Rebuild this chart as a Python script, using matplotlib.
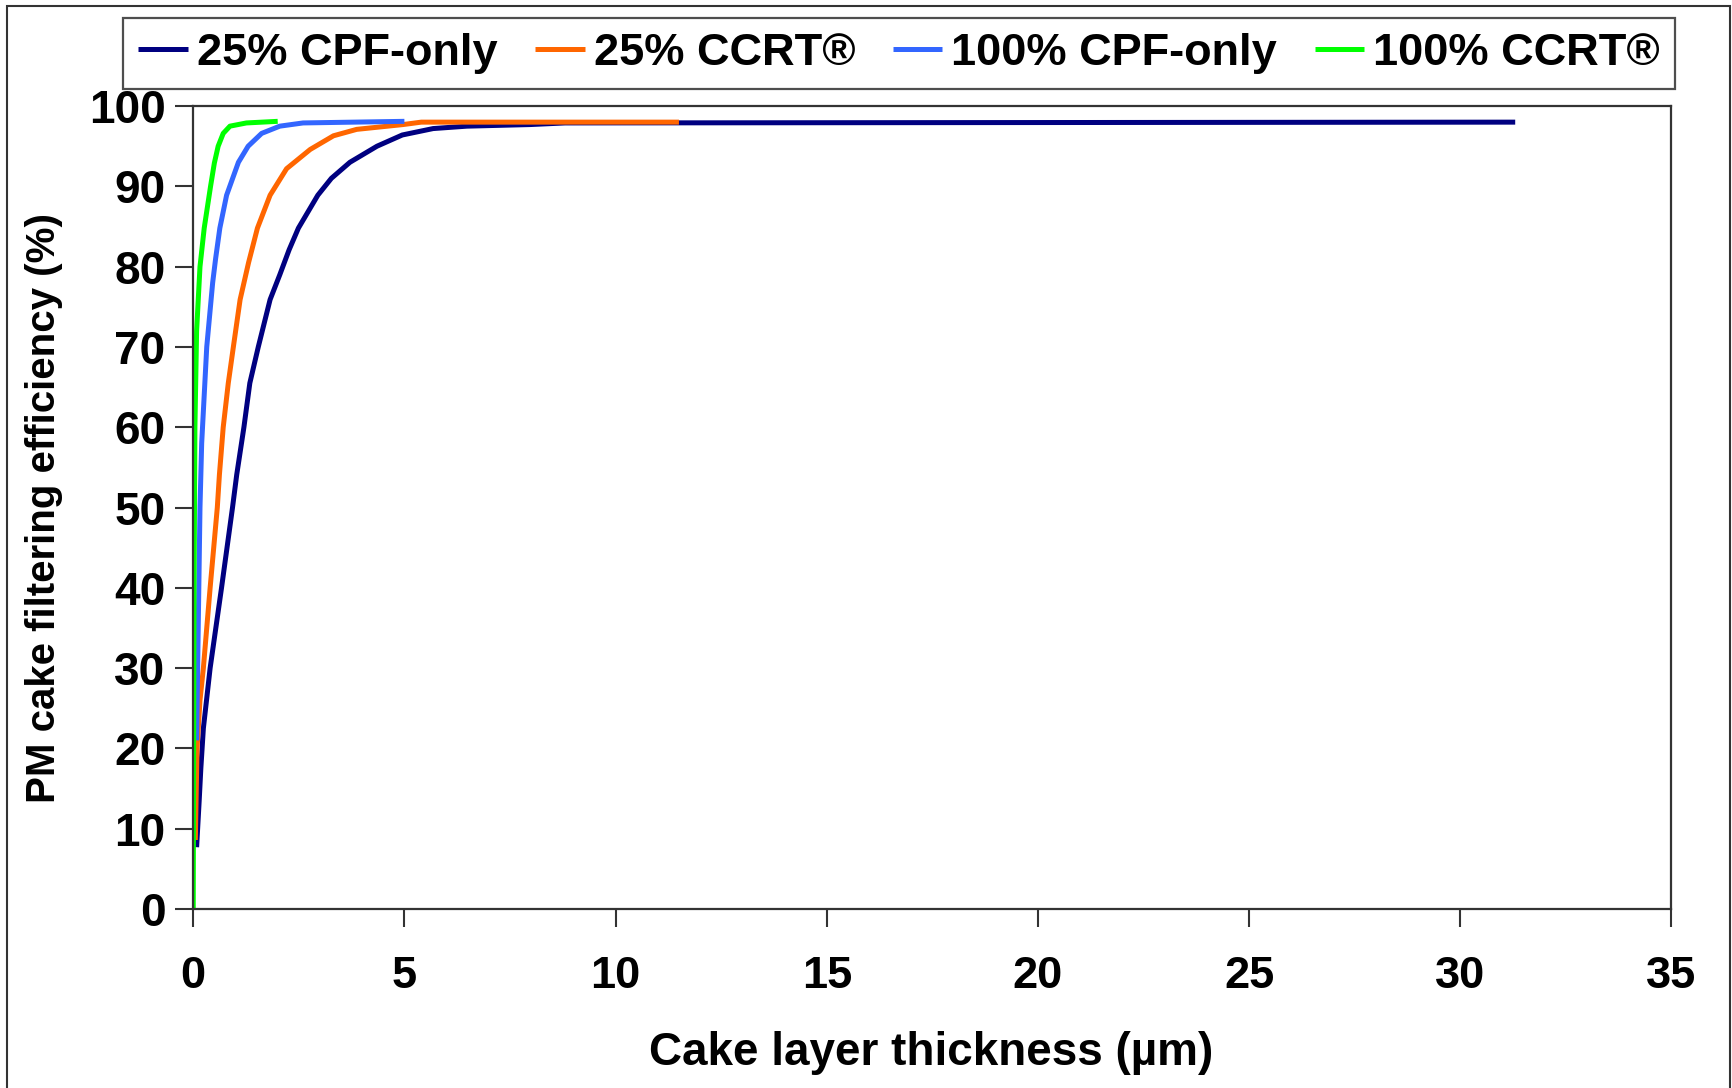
import matplotlib
matplotlib.use("Agg")
import matplotlib.pyplot as plt
from matplotlib.patches import Rectangle

plt.rcParams["font.family"] = ["Liberation Sans", "DejaVu Sans"]
plt.rcParams["font.weight"] = "bold"

# ── Data ─────────────────────────────────────────────────────
labels = ["25% CPF-only", "25% CCRT®", "100% CPF-only", "100% CCRT®"]
colors = ["#000080", "#FF6600", "#3366FF", "#00FF00"]

x_cpf25 = [0.08, 0.14, 0.18, 0.24, 0.40, 0.67, 0.93, 1.03, 1.20, 1.34, 1.54,
           1.82, 2.05, 2.27, 2.49, 2.95, 3.27, 3.71, 4.35, 4.95, 5.68, 6.48,
           7.98, 8.8, 31.3]
y_cpf25 = [7.7, 13.4, 17.5, 22.5, 30, 40, 50, 54.1, 60, 65.5, 70,
           75.9, 79, 82.1, 84.8, 88.9, 91.0, 93.0, 95.0, 96.4, 97.2, 97.5,
           97.7, 97.9, 98.0]

x_ccrt25 = [0.05, 0.09, 0.16, 0.24, 0.40, 0.57, 0.62, 0.71, 0.83, 0.95, 1.11,
            1.31, 1.52, 1.82, 2.21, 2.77, 3.32, 3.87, 4.97, 5.4, 11.5]
y_ccrt25 = [8.6, 20, 26, 30, 40, 50, 54.1, 60, 65.5, 70, 75.9,
            80.5, 84.8, 88.9, 92.2, 94.6, 96.3, 97.1, 97.7, 98.0, 98.0]

x_cpf100 = [0.08, 0.12, 0.16, 0.20, 0.24, 0.32, 0.46, 0.53, 0.63, 0.79, 1.07,
            1.30, 1.62, 2.05, 2.6, 5.0]
y_cpf100 = [21, 35.6, 50, 58, 62, 70, 78, 81, 84.8, 88.9, 93.0,
            95.0, 96.6, 97.5, 97.9, 98.1]

x_ccrt100 = [0.0, 0.02, 0.04, 0.08, 0.16, 0.26, 0.41, 0.50, 0.59, 0.71, 0.87,
             1.26, 2.0]
y_ccrt100 = [0, 40, 60, 72, 80, 84.8, 90, 92.9, 95, 96.6, 97.5,
             97.9, 98.1]

series = [(x_cpf25, y_cpf25), (x_ccrt25, y_ccrt25),
          (x_cpf100, y_cpf100), (x_ccrt100, y_ccrt100)]

x_ticks = [0, 5, 10, 15, 20, 25, 30, 35]
y_ticks = [0, 10, 20, 30, 40, 50, 60, 70, 80, 90, 100]

# ── Figure ───────────────────────────────────────────────────
fig = plt.figure(figsize=(17.33, 10.88), dpi=100)
ax = fig.add_axes([0.1115, 0.1645, 0.853, 0.738])

handles = []
for (xs, ys), lab, col in zip(series, labels, colors):
    h, = ax.plot(xs, ys, color=col, lw=3.6, label=lab,
                 solid_capstyle="butt")
    handles.append(h)

ax.set_xlim(0, 35)
ax.set_ylim(0, 100)
ax.set_xticks(x_ticks)
ax.set_yticks(y_ticks)
ax.tick_params(axis="both", direction="out", length=13, width=1.5,
               color="#333333")
ax.tick_params(axis="x", pad=21, labelsize=32.5)
ax.tick_params(axis="y", pad=7, labelsize=33)
for sp in ax.spines.values():
    sp.set_color("#333333")
    sp.set_linewidth(1.6)

ax.set_xlabel("Cake layer thickness (µm)", fontsize=33, fontweight="bold")
ax.set_ylabel("PM cake filtering efficiency (%)", fontsize=29,
              fontweight="bold")
ax.xaxis.set_label_coords(0.4995, -0.152)
ax.yaxis.set_label_coords(-0.088, 0.5)

leg = fig.legend(handles=handles, loc="center", ncol=4,
                 bbox_to_anchor=(899 / 1733, 1 - 53.5 / 1088),
                 fontsize=32.5, frameon=True, fancybox=False,
                 handlelength=1.1, handletextpad=0.2, columnspacing=0.83,
                 borderpad=0.33)
leg.get_frame().set_edgecolor("#222222")
leg.get_frame().set_linewidth(1.6)

# outer frame of the picture
fig.patches.append(Rectangle((0.004, -0.05), 0.9943, 1.0445,
                             transform=fig.transFigure, fill=False,
                             edgecolor="#333333", lw=1.5))

fig.savefig("out.png", dpi=100)
